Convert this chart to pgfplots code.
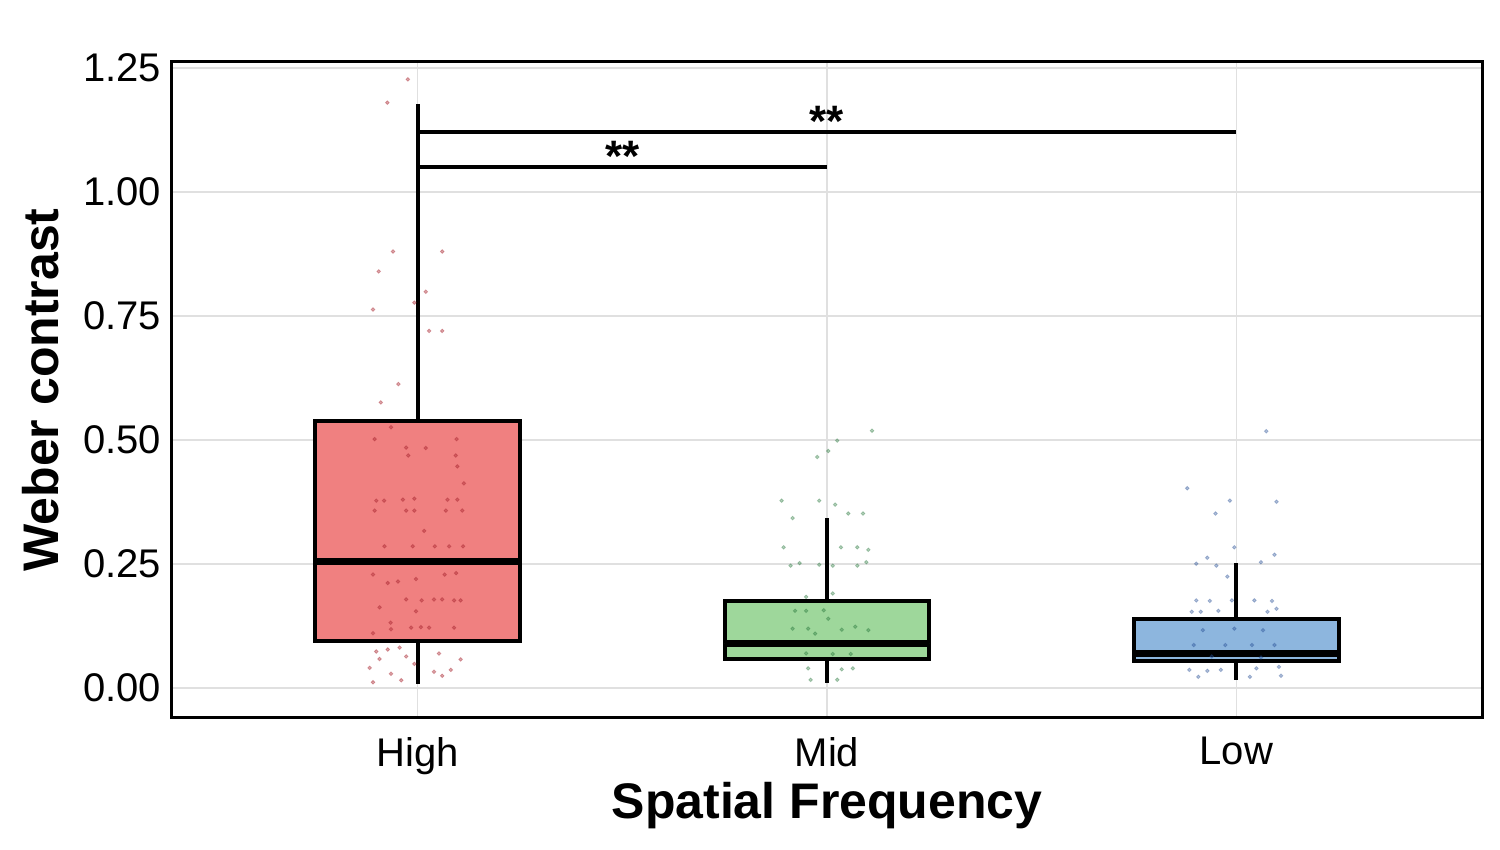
\documentclass[border=0pt]{standalone}
\usepackage{pgfplots}
\pgfplotsset{compat=1.18}
\usepgfplotslibrary{statistics}
\usepackage{fontspec}
\setmainfont{Liberation Sans}
\definecolor{boxred}{RGB}{240,128,128}
\definecolor{boxgreen}{RGB}{158,215,155}
\definecolor{boxblue}{RGB}{141,182,222}
\definecolor{ptred}{RGB}{170,40,50}
\definecolor{ptgreen}{RGB}{40,120,60}
\definecolor{ptblue}{RGB}{40,80,150}
\begin{document}
\begin{tikzpicture}
\begin{axis}[
  scale only axis, width=655pt, height=328pt,
  xmin=-0.6, xmax=2.6, ymin=-0.06, ymax=1.262,
  xtick={0,1,2}, xticklabels={High,Mid,Low},
  ytick={0,0.25,0.5,0.75,1,1.25},
  yticklabel style={/pgf/number format/fixed, /pgf/number format/fixed zerofill, /pgf/number format/precision=2},
  /pgf/number format/assume math mode=true,
  tick label style={font=\fontsize{20}{24}\selectfont},
  xticklabel style={yshift=-6pt},
  yticklabel style={xshift=-2pt},
  major tick length=0pt,
  grid=major, major grid style={line width=0.8pt, color=black!12},
  axis line style={line width=1.5pt},
  xlabel={Spatial Frequency}, ylabel={Weber contrast},
  label style={font=\fontsize{25}{30}\selectfont\bfseries},
  xlabel style={at={(axis description cs:0.5,-0.134)}, anchor=center},
  ylabel style={at={(axis description cs:-0.1,0.5)}, anchor=center},
  boxplot/draw direction=y,
  boxplot/every median/.style={line width=3.5pt},
]
\addplot[draw=black, line width=2pt, fill=boxred, boxplot prepared={draw position=0, lower whisker=0.008, lower quartile=0.095, median=0.255, upper quartile=0.538, upper whisker=1.177, box extend=0.5, whisker extend=0}] coordinates {};
\addplot[draw=black, line width=2pt, fill=boxgreen, boxplot prepared={draw position=1, lower whisker=0.011, lower quartile=0.058, median=0.090, upper quartile=0.175, upper whisker=0.344, box extend=0.5, whisker extend=0}] coordinates {};
\addplot[draw=black, line width=2pt, fill=boxblue, boxplot prepared={draw position=2, lower whisker=0.016, lower quartile=0.055, median=0.069, upper quartile=0.140, upper whisker=0.252, box extend=0.5, whisker extend=0}] coordinates {};

\addplot[only marks, mark=*, mark size=0.9pt, color=ptred, opacity=0.4] table {
x y
-0.024 1.227
-0.074 1.180
-0.060 0.880
0.060 0.880
-0.095 0.840
0.020 0.799
-0.008 0.777
-0.109 0.763
0.028 0.720
0.060 0.720
-0.047 0.613
-0.090 0.576
-0.065 0.526
-0.105 0.502
0.095 0.502
-0.028 0.485
0.020 0.484
-0.023 0.469
0.093 0.469
0.097 0.447
0.113 0.413
-0.101 0.378
-0.082 0.378
-0.036 0.380
-0.008 0.382
0.073 0.380
0.097 0.380
-0.105 0.358
-0.028 0.358
-0.008 0.358
0.069 0.358
0.109 0.358
0.016 0.317
-0.081 0.286
-0.012 0.286
0.042 0.286
0.077 0.286
0.111 0.286
-0.109 0.229
-0.073 0.212
-0.048 0.215
-0.004 0.220
0.066 0.229
0.094 0.232
-0.093 0.163
-0.028 0.179
0.010 0.177
0.040 0.179
0.060 0.179
0.089 0.177
0.105 0.177
-0.004 0.155
-0.109 0.111
-0.066 0.132
-0.065 0.119
-0.016 0.122
0.008 0.123
0.028 0.122
0.089 0.122
-0.101 0.074
-0.073 0.078
-0.044 0.082
-0.028 0.064
-0.117 0.041
-0.065 0.029
-0.040 0.016
-0.109 0.012
-0.093 0.059
0.040 0.033
0.060 0.025
0.081 0.037
0.105 0.058
0.052 0.070
-0.008 0.049
};
\addplot[only marks, mark=*, mark size=0.9pt, color=ptgreen, opacity=0.35] table {
x y
1.110 0.519
1.025 0.499
1.003 0.478
0.976 0.466
0.889 0.378
0.981 0.378
1.020 0.370
1.052 0.352
1.088 0.352
0.916 0.343
0.894 0.284
1.034 0.284
1.074 0.284
1.101 0.279
0.911 0.247
0.933 0.252
0.981 0.249
1.014 0.247
1.074 0.247
1.096 0.254
0.949 0.184
1.014 0.191
0.922 0.156
0.949 0.156
0.992 0.157
1.003 0.140
0.916 0.120
0.954 0.120
1.036 0.118
1.069 0.124
1.101 0.117
0.971 0.110
0.949 0.070
1.014 0.069
1.058 0.069
0.954 0.040
1.036 0.038
1.063 0.040
0.960 0.017
1.025 0.017
};
\addplot[only marks, mark=*, mark size=0.9pt, color=ptblue, opacity=0.35] table {
x y
2.073 0.518
1.880 0.403
1.984 0.378
2.098 0.376
1.949 0.352
1.995 0.284
1.902 0.251
1.929 0.263
1.951 0.247
2.060 0.254
2.093 0.269
1.978 0.225
1.902 0.177
1.935 0.176
1.989 0.177
2.044 0.177
2.087 0.176
1.891 0.154
1.913 0.154
1.956 0.156
2.076 0.154
2.098 0.160
1.918 0.117
1.995 0.120
2.065 0.117
1.896 0.087
1.973 0.087
2.038 0.087
2.093 0.087
1.885 0.037
1.929 0.035
1.962 0.037
2.049 0.040
2.104 0.043
1.907 0.023
2.033 0.023
2.109 0.025
1.940 0.064
2.060 0.062
};

\addplot[black, line width=2pt] coordinates {(0,1.05) (1,1.05)};
\addplot[black, line width=2pt] coordinates {(0,1.12) (2,1.12)};
\node[anchor=base, font=\fontsize{22}{26}\selectfont\bfseries] at (axis cs:1,1.112) {**};
\node[anchor=base, font=\fontsize{22}{26}\selectfont\bfseries] at (axis cs:0.5,1.041) {**};
\end{axis}
\pgfresetboundingbox
\path ([shift={(-86pt,-66pt)}]current axis.south west) rectangle ([shift={(9pt,31pt)}]current axis.north east);
\end{tikzpicture}
\end{document}
